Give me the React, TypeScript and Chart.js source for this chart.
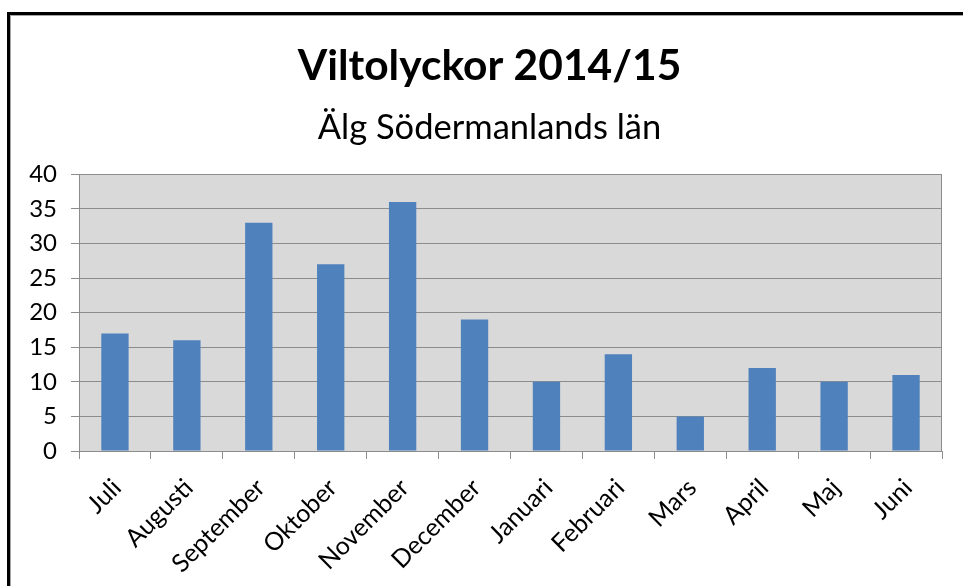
import { useEffect, useRef } from 'react';
import { Chart, registerables } from 'chart.js';

Chart.register(...registerables);

const titleText = 'Viltolyckor 2014/15';
const subtitleText = 'Älg Södermanlands län';
const categories = ['Juli', 'Augusti', 'September', 'Oktober', 'November', 'December', 'Januari', 'Februari', 'Mars', 'April', 'Maj', 'Juni'];
const values = [17, 16, 33, 27, 36, 19, 10, 14, 5, 12, 10, 11];
const yMin = 0;
const yMax = 40;
const yStep = 5;

const FONT = 'Lato, "Open Sans", sans-serif';

const framePlugin = {
  id: 'frame',
  beforeDraw(chart: any) {
    const { ctx, width, height, chartArea } = chart;
    ctx.save();
    ctx.fillStyle = '#ffffff';
    ctx.fillRect(0, 0, width, height);
    // outer frame
    ctx.fillStyle = '#000000';
    ctx.fillRect(7, 12, 3, height - 12);
    ctx.fillRect(7, 12, width - 7, 3);
    ctx.fillStyle = '#a6a6a6';
    ctx.fillRect(10, 15, 1, height - 15);
    ctx.fillRect(10, 15, width - 10, 1);
    // plot background
    ctx.fillStyle = '#d9d9d9';
    ctx.fillRect(chartArea.left, chartArea.top, chartArea.right - chartArea.left, chartArea.bottom - chartArea.top);
    ctx.restore();
  },
  afterDatasetsDraw(chart: any) {
    const { ctx, chartArea } = chart;
    ctx.save();
    ctx.strokeStyle = '#8c8c8c';
    ctx.lineWidth = 1;
    ctx.beginPath();
    ctx.moveTo(Math.round(chartArea.right) - 0.5, chartArea.top);
    ctx.lineTo(Math.round(chartArea.right) - 0.5, chartArea.bottom);
    ctx.stroke();
    ctx.restore();
  },
};

export default function App() {
  const ref = useRef<HTMLCanvasElement>(null);
  useEffect(() => {
    if (!ref.current) return;
    const chart = new Chart(ref.current, {
      type: 'bar',
      data: {
        labels: categories,
        datasets: [
          {
            data: values,
            backgroundColor: '#4f81bd',
            borderWidth: 0,
            categoryPercentage: 1,
            barPercentage: 0.38,
          },
        ],
      },
      plugins: [framePlugin],
      options: {
        responsive: false,
        animation: false,
        events: [],
        layout: { padding: { left: 16, right: 0, top: 0, bottom: 0 } },
        plugins: {
          legend: { display: false },
          tooltip: { enabled: false },
          title: {
            display: true,
            text: titleText,
            color: '#000000',
            font: { family: FONT, size: 42.5, weight: 'bold' },
            padding: { top: 41, bottom: 15 },
          },
          subtitle: {
            display: true,
            text: subtitleText,
            color: '#000000',
            font: { family: FONT, size: 34.5, weight: 'normal' },
            padding: { top: 0, bottom: 26 },
          },
        },
        scales: {
          x: {
            offset: true,
            grid: {
              offset: true,
              drawOnChartArea: false,
              drawTicks: true,
              tickLength: 8,
              color: '#8c8c8c',
            },
            border: { color: '#8c8c8c' },
            ticks: {
              color: '#000000',
              font: { family: FONT, size: 25 },
              maxRotation: 45,
              minRotation: 45,
              autoSkip: false,
              padding: 14,
              labelOffset: 2,
            },
            afterFit(scale: any) {
              scale.height = 135;
              scale.paddingLeft = 0;
              scale.paddingRight = 21;
            },
          },
          y: {
            min: yMin,
            max: yMax,
            grid: {
              color: '#8c8c8c',
              tickLength: 8,
              drawTicks: true,
            },
            border: { color: '#8c8c8c' },
            ticks: {
              stepSize: yStep,
              color: '#000000',
              font: { family: FONT, size: 24 },
              padding: 14,
            },
            afterFit(scale: any) {
              scale.width = 63;
            },
          },
        },
      },
    });
    return () => chart.destroy();
  }, []);
  return (
    <div style={{ position: 'fixed', left: 0, top: 0, width: 963, height: 586 }}>
      <canvas ref={ref} width={963} height={586} style={{ display: 'block', width: 963, height: 586 }} />
    </div>
  );
}
